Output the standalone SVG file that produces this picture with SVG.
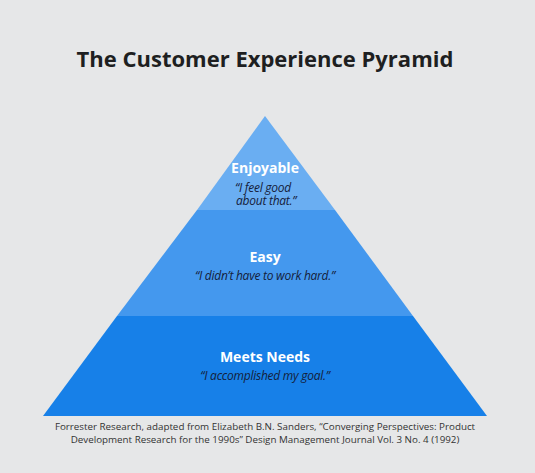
<svg xmlns="http://www.w3.org/2000/svg" width="535" height="473" viewBox="0 0 535 473">
<style>
.title{font-family:"Open Sans","Liberation Sans",sans-serif;font-weight:700;font-size:22px;fill:#1e1f21;text-anchor:middle}
.head{font-family:"Open Sans","Liberation Sans",sans-serif;font-weight:700;font-size:14px;fill:#ffffff;text-anchor:middle}
.quote{font-family:"Open Sans","Liberation Sans",sans-serif;font-style:italic;font-size:12px;fill:#15203a;letter-spacing:-0.25px}
.foot{font-family:"Open Sans","Liberation Sans",sans-serif;font-size:9.8px;fill:#333333;text-anchor:middle}
</style>
<rect width="535" height="473" fill="#e6e7e8"/>
<text class="title" x="265" y="67">The Customer Experience Pyramid</text>
<g id="meets-needs">
<polygon points="117,316 413,316 487,416 43,416" fill="#1780e8"/>
<text class="head" x="265" y="362">Meets Needs</text>
<text class="quote" x="265" y="380" text-anchor="middle">“I accomplished my goal.”</text>
</g>
<g id="easy">
<polygon points="197,210 335,210 413,316 117,316" fill="#4498ee"/>
<text class="head" x="265" y="262">Easy</text>
<text class="quote" x="265" y="280" text-anchor="middle">“I didn’t have to work hard.”</text>
</g>
<g id="enjoyable">
<polygon points="265,116 335,210 197,210" fill="#6aaef2"/>
<text class="head" x="265" y="172.5">Enjoyable</text>
<text class="quote" x="235" y="192"><tspan>“I feel good</tspan><tspan x="236" dy="13">about that.”</tspan></text>
</g>
<g id="connectors"/>
<text class="foot" x="265" y="430">Forrester Research, adapted from Elizabeth B.N. Sanders, “Converging Perspectives: Product</text>
<text class="foot" x="265" y="443">Development Research for the 1990s” Design Management Journal Vol. 3 No. 4 (1992)</text>
</svg>
